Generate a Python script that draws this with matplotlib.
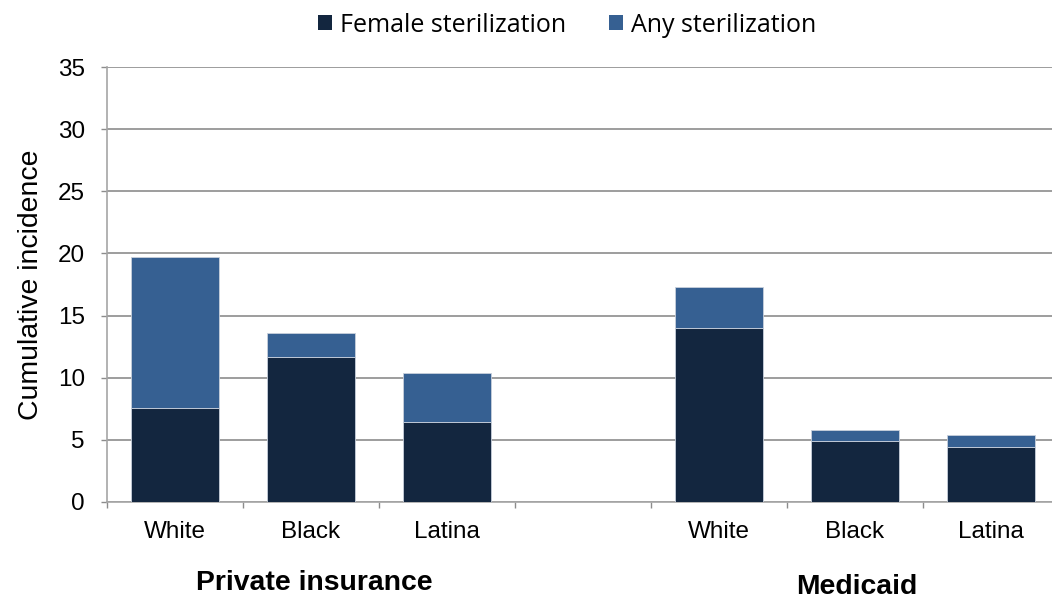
import matplotlib
matplotlib.use("Agg")
import matplotlib.pyplot as plt
from matplotlib.patches import Patch
import numpy as np

# Data
categories = ["White", "Black", "Latina", "", "White", "Black", "Latina"]
groups = ["Private insurance", "Medicaid"]
female_sterilization = [7.6, 11.7, 6.4, np.nan, 14.0, 4.9, 4.4]
any_sterilization = [19.7, 13.6, 10.4, np.nan, 17.3, 5.8, 5.4]
yticks = [0, 5, 10, 15, 20, 25, 30, 35]

dark = "#13263f"
blue = "#366092"
grid = "#8c8c8c"

plt.rcParams["font.family"] = ["Liberation Sans", "DejaVu Sans"]

W, H = 1052, 601
fig = plt.figure(figsize=(W / 100, H / 100), dpi=100)
ax = fig.add_axes([107 / W, 1 - 502 / H, (1059 - 107) / W, (502 - 67) / H])

x = np.arange(len(categories))
female = np.array(female_sterilization)
total = np.array(any_sterilization)
extra = total - female
w = 0.65
ax.bar(x, female, width=w, color=dark, edgecolor="#c8d0dc", linewidth=0.6, zorder=3)
ax.bar(x, extra, bottom=female, width=w, color=blue, edgecolor="#c8d0dc", linewidth=0.6, zorder=3)

ax.set_xlim(-0.5, len(categories) - 0.5)
ax.set_ylim(0, 35)
ax.set_yticks(yticks)
ax.set_yticklabels([str(t) for t in yticks], fontsize=17.5)
ax.yaxis.grid(True, color=grid, linewidth=1.2, zorder=0)
ax.set_axisbelow(True)

ax.set_xticks(x)
ax.set_xticklabels(categories, fontsize=17.5)
ax.tick_params(axis="x", length=0, pad=14)
ax.set_xticks(np.arange(len(categories) + 1) - 0.5, minor=True)
ax.tick_params(axis="x", which="minor", length=4, color=grid, width=1)
ax.tick_params(axis="y", length=4, color=grid, width=1, pad=12)

for s in ["top", "right"]:
    ax.spines[s].set_visible(False)
ax.spines["left"].set_color("#a6a6a6")
ax.spines["bottom"].set_color("#a6a6a6")
ax.spines["left"].set_linewidth(1.2)
ax.spines["bottom"].set_linewidth(1.2)

fig.text(31 / W, 1 - 285 / H, "Cumulative incidence", rotation=90,
         ha="center", va="center", fontsize=20.4)

# Group labels under each set of bars
fig.text(314 / W, 1 - 583 / H, groups[0], ha="center", va="center",
         fontsize=20.4, fontweight="bold")
fig.text(857 / W, 1 - 587 / H, groups[1], ha="center", va="center",
         fontsize=20.4, fontweight="bold")

handles = [Patch(facecolor=dark, edgecolor="none"), Patch(facecolor=blue, edgecolor="none")]
fig.legend(handles, ["Female sterilization", "Any sterilization"],
           loc="center", bbox_to_anchor=(567.5 / W, 1 - 25 / H), ncol=2,
           frameon=False, handlelength=0.56, handleheight=0.56,
           handletextpad=0.32, columnspacing=1.72, borderpad=0,
           prop={"family": ["Open Sans", "DejaVu Sans"], "size": 18})

fig.savefig("out.png", dpi=100)
